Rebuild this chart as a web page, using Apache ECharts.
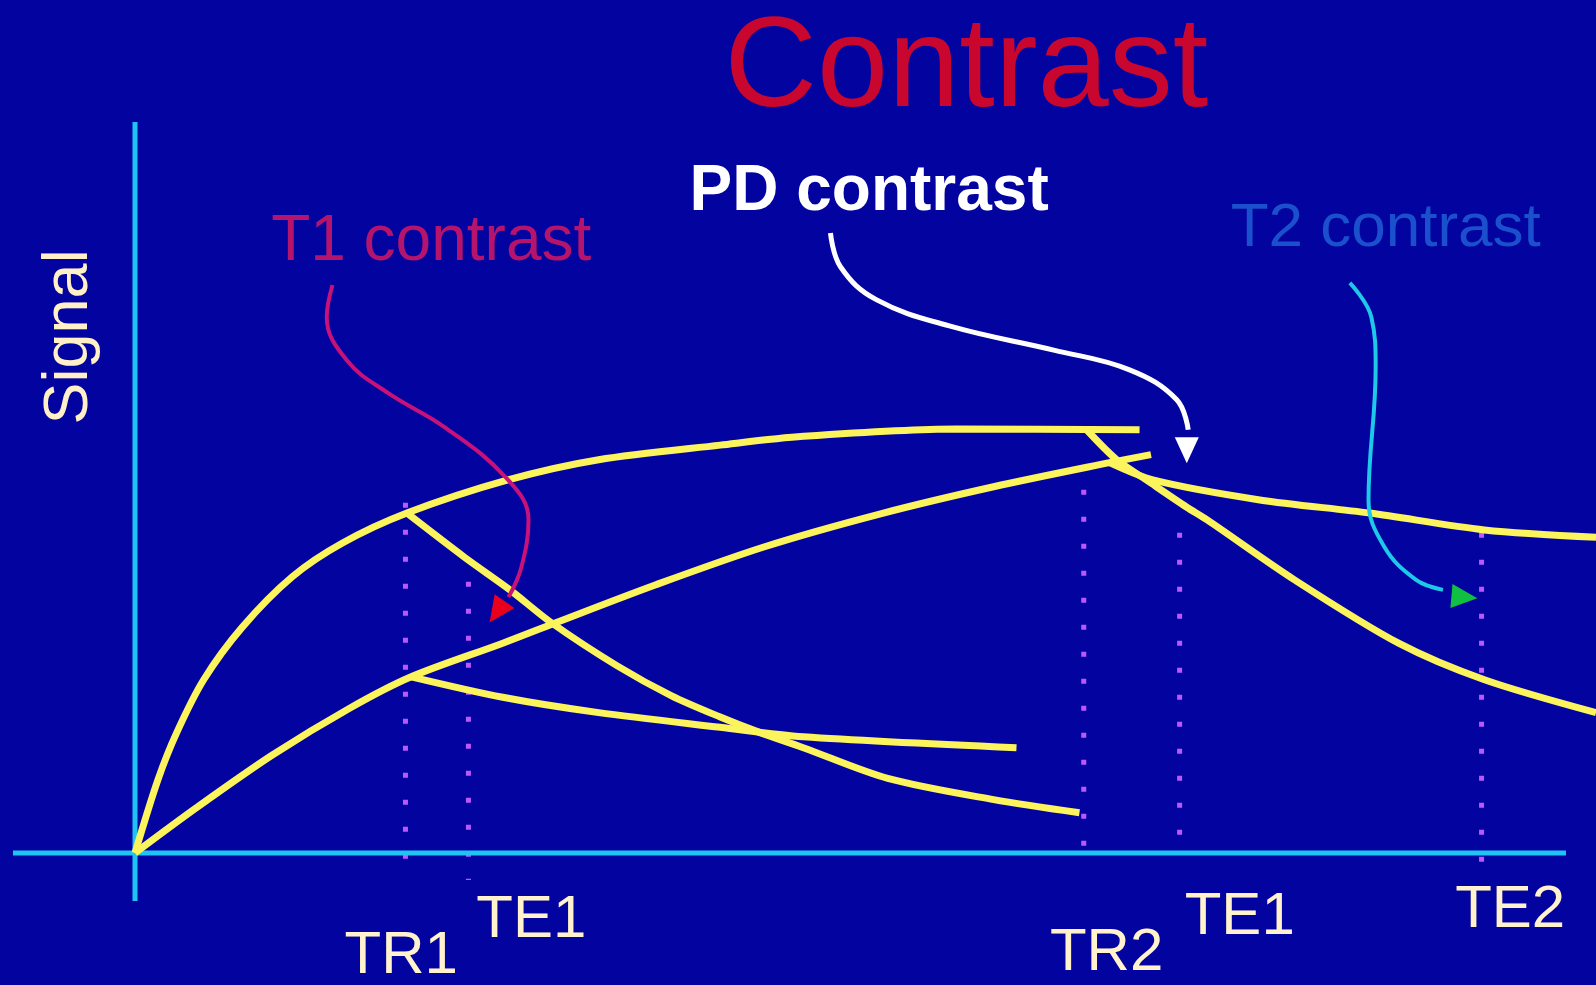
<!DOCTYPE html>
<html>
<head>
<meta charset="utf-8">
<title>Contrast</title>
<script src="https://cdn.jsdelivr.net/npm/echarts@6/dist/echarts.min.js"></script>
<style>
  html, body { margin: 0; padding: 0; background: #0303a0; }
  #chart { width: 1596px; height: 985px; }
</style>
</head>
<body>
<div id="chart"></div>
<script>
// units: time 0..100 = origin .. end of time axis, signal 0..100 = origin .. top of signal axis

// T1 recovery, short T1 tissue (rises fast)
const recoveryShort = [[0, 0], [1.6, 10], [2.9, 16.4], [4.8, 23.7], [7.5, 30.9], [11, 37.8],
  [14.5, 42.4], [19, 46.5], [26, 51], [32.4, 53.8], [40.9, 55.8], [46.7, 57], [57.4, 58], [70.2, 57.9]];
// T1 recovery, long T1 tissue (rises slowly)
const recoveryLong = [[0, 0], [4.3, 6.2], [9.6, 13.4], [15, 19.8], [19.3, 24.1], [25.7, 28.7], [29.4, 31.5],
  [36.4, 36.7], [44, 41.9], [52.1, 46.4], [60, 50.1], [68.1, 53.4], [71, 54.5]];
// T2 decays after TR1
const decayShortTR1 = [[19, 46.5], [23, 40.5], [26.2, 36], [29.1, 31.5], [33.7, 25.6], [37.5, 21.5], [40.9, 18.6],
  [43.5, 16.6], [46.7, 14.4], [52.6, 10.2], [60, 7.3], [66, 5.5]];
const decayLongTR1 = [[19.3, 24.1], [25.7, 21.3], [32.4, 19.2], [40.9, 17.2], [46.7, 15.9], [61.6, 14.4]];
// T2 decays after TR2
const decayShortTR2 = [[66.5, 57.9], [68.6, 53.8], [70.7, 51], [73.5, 47.3], [74.9, 45.6], [81, 37.4],
  [88.3, 28.7], [94.3, 23.7], [102.1, 19.2]];
const decayLongTR2 = [[68.1, 53.4], [71.2, 51], [78.6, 48.3], [86.3, 46.5], [94.3, 44.2], [102.1, 43.2]];

// dotted TR / TE markers
const markerX = [18.9, 23.3, 66.3, 73, 94.1];
const markerTop = [47.9, 37.1, 49.7, 43.8, 43.8];
const markerBottom = [-3.7, -3.7, -1.4, 0, -4.1];

// axis labels under the time axis
const tickNames = ['TR1', 'TE1', 'TR2', 'TE1', 'TE2'];
const tickX = [18.6, 27.7, 67.9, 77.2, 96.1];
const tickY = [-14.1, -9.2, -13.8, -8.8, -7.8];

// annotation arrows
const arrowT1 = [[13.8, 77.7], [13.4, 73.3], [14.8, 67.4], [17.7, 62.9], [21.6, 58.3], [25.9, 51.4],
  [27.5, 45.6], [27, 39.1], [26.1, 35]];
const arrowPD = [[48.6, 84.8], [49.3, 80.2], [51.8, 75.7], [57.1, 72], [64.2, 68.8], [69.5, 66.1],
  [72.8, 62], [73.6, 57.9]];
const arrowT2 = [[84.9, 78], [86.4, 73.3], [86.7, 66.5], [86.2, 48.3], [87.3, 41.9], [89.5, 37.4], [91.4, 36]];
const arrowHeads = [[25.3, 33], [73.5, 55.1], [92.9, 35]];
const arrowHeadAngles = [145, 180, -95];

const chart = echarts.init(document.getElementById('chart'));

const font = 'Liberation Sans, Arial, sans-serif';
const yellow = '#fbf45c';

function curve(data) {
  return {
    type: 'line', data: data, smooth: 0.3, symbol: 'none', z: 3,
    lineStyle: { color: yellow, width: 7 }
  };
}

function arrow(data, color, width) {
  return {
    type: 'line', data: data, smooth: 0.4, symbol: 'none', z: 5,
    lineStyle: { color: color, width: width }
  };
}

function note(x, y, text, size, color, extra) {
  return {
    value: [x, y],
    label: Object.assign({ show: true, position: 'inside', formatter: text, fontSize: size, color: color, fontFamily: font }, extra || {})
  };
}

const series = [];

// axes
series.push({
  type: 'line', data: [[-8.53, 0], [100, 0]], symbol: 'none', z: 2,
  lineStyle: { color: '#1ec4f4', width: 5 }
});
series.push({
  type: 'line', data: [[0, -6.57], [0, 100]], symbol: 'none', z: 2,
  lineStyle: { color: '#1ec4f4', width: 5 }
});

// dotted markers
markerX.forEach((x, i) => {
  series.push({
    type: 'line', data: [[x, markerTop[i]], [x, markerBottom[i]]], symbol: 'none', z: 1,
    lineStyle: { color: '#bc58ff', width: 5, type: [5, 22], cap: 'butt' }
  });
});

series.push(curve(recoveryShort));
series.push(curve(recoveryLong));
series.push(curve(decayShortTR1));
series.push(curve(decayLongTR1));
series.push(curve(decayShortTR2));
series.push(curve(decayLongTR2));

series.push(arrow(arrowT1, '#c8127a', 4));
series.push(arrow(arrowPD, '#ffffff', 5));
series.push(arrow(arrowT2, '#1ec8e8', 4));

const headColors = ['#e8001c', '#ffffff', '#10c040'];
series.push({
  type: 'scatter', symbol: 'triangle', symbolSize: [24, 26], z: 6,
  data: arrowHeads.map((p, i) => ({
    value: p, symbolRotate: arrowHeadAngles[i],
    itemStyle: { color: headColors[i], opacity: 1 }
  }))
});

// texts
const notes = [
  note(58.1, 107.0, 'Contrast', 128, '#c8062e'),
  note(51.3, 90.4, 'PD contrast', 64, '#ffffff', { fontWeight: 'bold' }),
  note(20.7, 83.6, 'T1 contrast', 64, '#b4146c'),
  note(87.4, 85.4, 'T2 contrast', 62, '#1a50cc'),
  note(-4.6, 70.6, 'Signal', 63, '#fff0c8', { rotate: 90 })
];
tickNames.forEach((t, i) => notes.push(note(tickX[i], tickY[i], t, 60, '#fff2cc')));
series.push({
  type: 'scatter', symbolSize: 1, itemStyle: { color: 'rgba(0,0,0,0)', opacity: 1 }, z: 7,
  data: notes
});

chart.setOption({
  backgroundColor: '#0303a0',
  animation: false,
  grid: { left: 0, right: 0, top: 0, bottom: 0 },
  xAxis: { type: 'value', min: -9.434, max: 102.097, show: false },
  yAxis: { type: 'value', min: -18.057, max: 116.69, show: false },
  series: series
});
</script>
</body>
</html>
